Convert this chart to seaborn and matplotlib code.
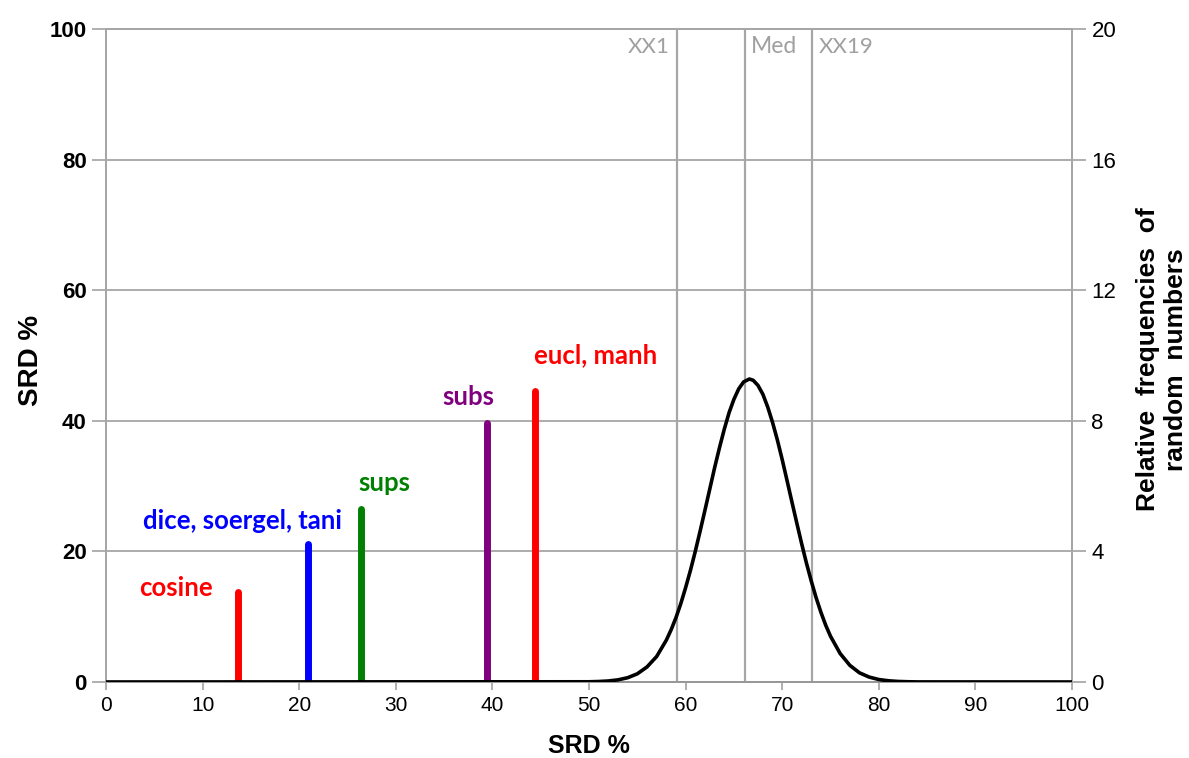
import matplotlib
matplotlib.use("Agg")
import matplotlib.pyplot as plt
import seaborn as sns
import pandas as pd

# ---- data ----
measures = ["cosine", "dice, soergel, tani", "sups", "subs", "eucl, manh"]
srd_x = [13.7, 20.9, 26.4, 39.4, 44.4]
srd_y = [13.8, 21.1, 26.5, 39.6, 44.5]
bar_colors = ["#ff0000", "#0000ff", "#008000", "#800080", "#ff0000"]
label_x = [7.2, 14.1, 28.8, 37.5, 50.7]
label_y = [14.4, 24.7, 30.5, 43.6, 50.0]

curve_x = [0, 50, 51, 52, 53, 54, 55, 56, 57, 58, 58.5, 59, 59.5, 60, 60.5, 61, 61.5,
           62, 62.5, 63, 63.5, 64, 64.5, 65, 65.5, 66, 66.6, 67, 67.5, 68, 68.5, 69,
           69.5, 70, 70.5, 71, 71.5, 72, 72.5, 73, 73.5, 74, 74.5, 75, 76, 77, 78, 79,
           80, 81, 82, 83, 84, 100]
curve_f = [0, 0.006, 0.014, 0.03, 0.065, 0.13, 0.25, 0.46, 0.78, 1.28, 1.60, 1.97, 2.40,
           2.89, 3.42, 4.00, 4.62, 5.26, 5.91, 6.56, 7.17, 7.74, 8.25, 8.66, 8.98, 9.19,
           9.28, 9.24, 9.08, 8.81, 8.42, 7.95, 7.41, 6.81, 6.17, 5.52, 4.88, 4.25, 3.65,
           3.10, 2.59, 2.14, 1.74, 1.40, 0.87, 0.51, 0.28, 0.15, 0.075, 0.036, 0.016,
           0.007, 0.002, 0]

ref_names = ["XX1", "Med", "XX19"]
ref_x = [59.1, 66.1, 73.1]

left_ticks = [0, 20, 40, 60, 80, 100]
right_ticks = [0, 4, 8, 12, 16, 20]
x_ticks = list(range(0, 101, 10))

sns.set_theme(style="white")
plt.rcParams["font.family"] = ["Liberation Sans", "DejaVu Sans"]

fig = plt.figure(figsize=(11.89, 7.58), dpi=100)
ax = fig.add_axes([0.0892, 0.1003, 0.9016 - 0.0892, 0.9617 - 0.1003])
ax2 = ax.twinx()

grid_c = "#a6a6a6"
ax.set_xlim(0, 100)
ax.set_ylim(0, 100)
ax2.set_ylim(0, 20)

for t in left_ticks[1:]:
    ax.axhline(t, color=grid_c, lw=1.3, zorder=0)
for xv in ref_x:
    ax.axvline(xv, color=grid_c, lw=1.6, zorder=0)

ax.vlines(srd_x, 0, srd_y, colors=bar_colors, lw=5, capstyle="round", zorder=3)

df = pd.DataFrame({"x": curve_x, "f": curve_f})
sns.lineplot(data=df, x="x", y="f", ax=ax2, color="black", lw=2.6, zorder=4)
ax2.set_xlabel("")

for name, tx, ty, c in zip(measures, label_x, label_y, bar_colors):
    ax.text(tx, ty, name, color=c, fontsize=18.5, fontweight="bold",
            family=["Lato", "DejaVu Sans"], ha="center", va="center")

gray_t = "#a0a0a0"
ax.text(ref_x[0] - 0.8, 97.3, ref_names[0], color=gray_t, fontsize=16,
        family=["Lato", "DejaVu Sans"], ha="right", va="center")
ax.text(ref_x[1] + 0.7, 97.3, ref_names[1], color=gray_t, fontsize=16.5,
        family=["Lato", "DejaVu Sans"], ha="left", va="center")
ax.text(ref_x[2] + 0.7, 97.3, ref_names[2], color=gray_t, fontsize=16,
        family=["Lato", "DejaVu Sans"], ha="left", va="center")

ax.set_xticks(x_ticks)
ax.set_yticks(left_ticks)
ax2.set_yticks(right_ticks)

for a in (ax, ax2):
    for s in a.spines.values():
        s.set_color(grid_c)
        s.set_linewidth(1.3)
ax.spines["bottom"].set_color("black")

ax.tick_params(axis="x", direction="out", length=6, color=grid_c, labelsize=15,
               labelcolor="black", pad=4, bottom=True)
ax.tick_params(axis="y", direction="out", length=10, color=grid_c, labelsize=16,
               labelcolor="black", pad=4, left=True)
ax2.tick_params(axis="y", direction="out", length=10, color=grid_c, labelsize=16,
                labelcolor="black", pad=4, right=True)
for lab in ax.get_yticklabels():
    lab.set_fontweight("bold")

ax.set_xlabel("SRD %", fontsize=18, fontweight="bold", labelpad=14, color="black")
ax.set_ylabel("SRD %", fontsize=20, fontweight="bold", color="black")
ax.yaxis.label.set_ha("center")
ax.yaxis.label.set_va("center")
ax.yaxis.set_label_coords(-0.0776, 0.493)

ax2.set_ylabel("Relative  frequencies  of\nrandom  numbers", fontsize=19, fontweight="bold",
               linespacing=1.2, color="black")
ax2.yaxis.label.set_ha("center")
ax2.yaxis.label.set_va("center")
ax2.yaxis.label.set_multialignment("center")
ax2.yaxis.set_label_coords(1.0935, 0.494)

fig.savefig("out.png", dpi=100)
